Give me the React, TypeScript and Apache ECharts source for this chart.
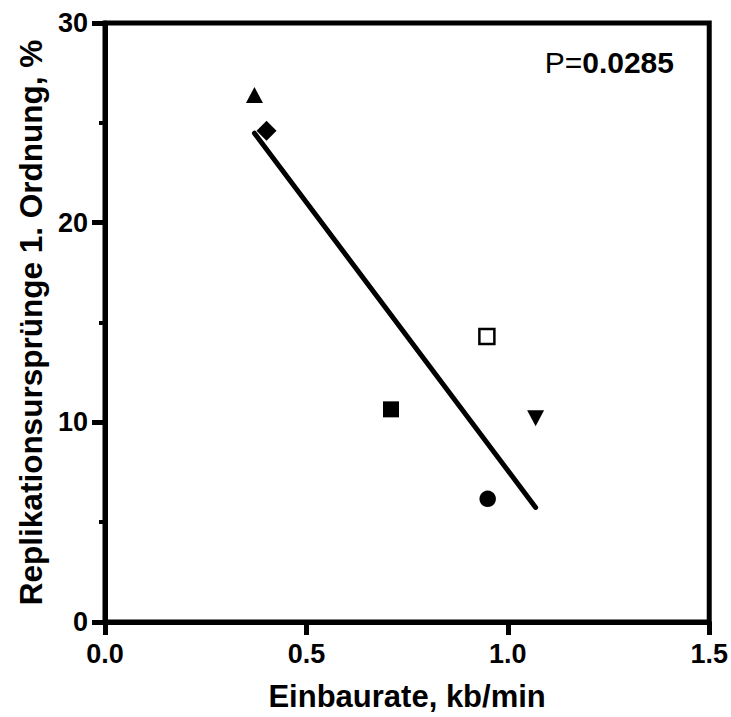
import React, { useEffect, useRef } from "react";
import * as echarts from "echarts";

const pointKinds = ["triangle", "diamond", "filledSquare", "openSquare", "circle", "triangleDown"];
const rateX = [0.371, 0.401, 0.71, 0.948, 0.95, 1.069];
const originPct = [26.4, 24.6, 10.65, 14.3, 6.17, 10.2];
const fitX = [0.371, 1.069];
const fitY = [24.48, 5.74];
const xTicks = [0, 0.5, 1.0, 1.5];
const yTicks = [0, 10, 20, 30];
const xTitle = "Einbaurate, kb/min";
const yTitle = "Replikationsursprünge 1. Ordnung, %";
const pLabel = "P=";
const pValue = "0.0285";

const FONT = "'Liberation Sans', Arial, sans-serif";

const symbolFor: Record<string, any> = {
  triangle: { symbol: "triangle", size: [17, 16], rotate: 0, fill: "#000", border: 0 },
  diamond: { symbol: "diamond", size: [20, 20], rotate: 0, fill: "#000", border: 0 },
  filledSquare: { symbol: "rect", size: [16, 16], rotate: 0, fill: "#000", border: 0 },
  openSquare: { symbol: "rect", size: [15, 15], rotate: 0, fill: "#fff", border: 2.5 },
  circle: { symbol: "circle", size: [16.5, 16.5], rotate: 0, fill: "#000", border: 0 },
  triangleDown: { symbol: "triangle", size: [17, 16], rotate: 180, fill: "#000", border: 0 },
};

export default function App() {
  const ref = useRef<HTMLDivElement>(null);
  useEffect(() => {
    if (!ref.current) return;
    const chart = echarts.init(ref.current, null, { renderer: "svg" });
    const scatterSeries = pointKinds.map((k, i) => {
      const s = symbolFor[k];
      return {
        type: "scatter",
        name: k,
        data: [[rateX[i], originPct[i]]],
        symbol: s.symbol,
        symbolSize: s.size,
        symbolRotate: s.rotate,
        itemStyle: { color: s.fill, borderColor: "#000", borderWidth: s.border, opacity: 1 },
        z: 5,
      };
    });
    chart.setOption({
      animation: false,
      backgroundColor: "#fff",
      grid: {
        left: 105,
        right: 20,
        top: 23,
        bottom: 91,
        show: true,
        borderColor: "#000",
        borderWidth: 5,
        backgroundColor: "transparent",
      },
      xAxis: {
        type: "value",
        min: xTicks[0],
        max: xTicks[xTicks.length - 1],
        interval: 0.5,
        name: xTitle,
        nameLocation: "middle",
        nameGap: 59,
        nameTextStyle: { fontFamily: FONT, fontWeight: "bold", fontSize: 31, color: "#000" },
        axisLine: { show: true, lineStyle: { color: "#000", width: 5 } },
        axisTick: { show: true, length: 13, lineStyle: { color: "#000", width: 5 } },
        axisLabel: {
          margin: 18,
          fontFamily: FONT,
          fontWeight: "bold",
          fontSize: 27,
          color: "#000",
          formatter: (v: number) => v.toFixed(1),
        },
        splitLine: { show: false },
      },
      yAxis: {
        type: "value",
        min: yTicks[0],
        max: yTicks[yTicks.length - 1],
        interval: 10,
        name: yTitle,
        nameLocation: "middle",
        nameGap: 58,
        nameRotate: 90,
        nameTextStyle: { fontFamily: FONT, fontWeight: "bold", fontSize: 31.5, color: "#000" },
        axisLine: { show: true, lineStyle: { color: "#000", width: 5 } },
        axisTick: { show: true, length: 13, lineStyle: { color: "#000", width: 5 } },
        minorTick: { show: true, splitNumber: 2, length: 6, lineStyle: { color: "#000", width: 4 } },
        axisLabel: {
          margin: 17,
          fontFamily: FONT,
          fontWeight: "bold",
          fontSize: 27,
          color: "#000",
        },
        splitLine: { show: false },
      },
      series: [
        {
          type: "line",
          name: "fit",
          data: fitX.map((x, i) => [x, fitY[i]]),
          showSymbol: false,
          symbol: "none",
          lineStyle: { color: "#000", width: 5, cap: "round" },
          z: 3,
        },
        ...scatterSeries,
      ],
      graphic: [
        {
          type: "text",
          right: 57,
          top: 47,
          style: {
            text: `{r|${pLabel}}{b|${pValue}}`,
            rich: {
              r: { fontFamily: FONT, fontSize: 30, fontWeight: "normal", fill: "#000" },
              b: { fontFamily: FONT, fontSize: 30, fontWeight: "bold", fill: "#000" },
            },
          },
        },
      ],
    });
    return () => chart.dispose();
  }, []);
  return (
    <div
      ref={ref}
      style={{ position: "fixed", left: 0, top: 0, width: 731, height: 717, background: "#fff" }}
    />
  );
}
